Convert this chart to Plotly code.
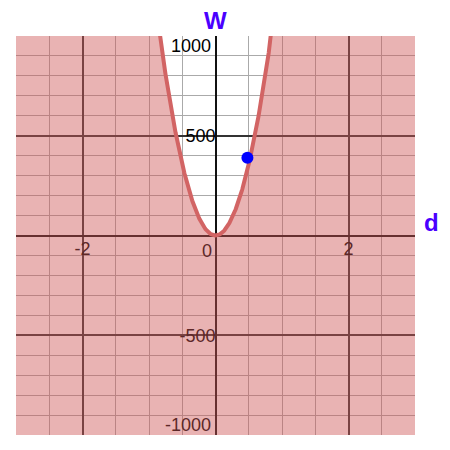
import numpy as np
import plotly.graph_objects as go

# Data
coef_k = 1430.0            # W = k * d^2
point_d = [0.48]
point_w = [390]
x_tick_vals = [-2, 2]
x_tick_text = ["-2", "2"]
y_tick_vals = [-500, 500]
y_tick_text = ["-500", "500"]
x_range = [-3, 3]
y_range = [-1000, 1000]

MAROON = "#5d2828"
FONT = "Liberation Sans, Arial, sans-serif"
TITLE_COLOR = "#4a00ff"

d = np.linspace(x_range[0], x_range[1], 1201)
w = coef_k * d ** 2

fig = go.Figure()

# shaded region W <= k d^2
fig.add_trace(go.Scatter(
    x=np.concatenate([d, [x_range[1], x_range[0]]]),
    y=np.concatenate([w, [y_range[0] - 200, y_range[0] - 200]]),
    fill="toself", fillcolor="rgba(207,87,87,0.45)",
    line=dict(width=0), mode="lines", hoverinfo="skip", showlegend=False))

# boundary curve
fig.add_trace(go.Scatter(x=d, y=w, mode="lines",
                         line=dict(color="#d26464", width=4),
                         showlegend=False))

# point
fig.add_trace(go.Scatter(x=point_d, y=point_w, mode="markers",
                         marker=dict(color="#0000ff", size=12),
                         showlegend=False))

def colored(txt, col):
    return f'<span style="color:{col}">{txt}</span>'

# page body has an 8px margin, so the figure is 442px and offset by 8px
fig.update_layout(
    width=442, height=442,
    margin=dict(l=8, r=35, t=28, b=15),
    paper_bgcolor="white", plot_bgcolor="white",
    font=dict(family=FONT, size=18, color="black"),
    xaxis=dict(range=x_range, anchor="free", position=0.5,
               tickmode="array", tickvals=x_tick_vals,
               ticktext=[colored(t, MAROON) for t in x_tick_text],
               ticks="", showline=False,
               showgrid=True, gridcolor="#333333", gridwidth=1.5,
               zeroline=True, zerolinecolor="#111111", zerolinewidth=2,
               minor=dict(dtick=0.5, tick0=0, showgrid=True,
                          gridcolor="#aaaaaa", gridwidth=1),
               fixedrange=True),
    yaxis=dict(range=y_range, anchor="free", position=0.5,
               tickmode="array", tickvals=y_tick_vals,
               ticktext=[colored(y_tick_text[0], MAROON), colored(y_tick_text[1], "black")],
               ticks="", showline=False,
               showgrid=True, gridcolor="#333333", gridwidth=1.5,
               zeroline=True, zerolinecolor="#111111", zerolinewidth=2,
               minor=dict(dtick=100, tick0=0, showgrid=True,
                          gridcolor="#aaaaaa", gridwidth=1),
               fixedrange=True),
    annotations=[
        dict(x=0, y=y_range[1], xref="x", yref="y", text="1000",
             xanchor="right", yanchor="top", xshift=-3, yshift=2,
             showarrow=False, font=dict(color="black", size=18)),
        dict(x=0, y=y_range[0], xref="x", yref="y", text="-1000",
             xanchor="right", yanchor="bottom", xshift=-3, yshift=-2,
             showarrow=False, font=dict(color=MAROON, size=18)),
        dict(x=0, y=0, xref="x", yref="y", text="0",
             xanchor="right", yanchor="top", xshift=-2, yshift=-3,
             showarrow=False, font=dict(color=MAROON, size=18)),
        dict(x=0, y=1, xref="x", yref="paper", text="<b>W</b>",
             xanchor="center", yanchor="bottom", yshift=0,
             showarrow=False, font=dict(color=TITLE_COLOR, size=24)),
        dict(x=1, y=65, xref="paper", yref="y", text="<b>d</b>",
             xanchor="left", yanchor="middle", xshift=7,
             showarrow=False, font=dict(color=TITLE_COLOR, size=24)),
    ],
)

fig.write_html("out.html")
